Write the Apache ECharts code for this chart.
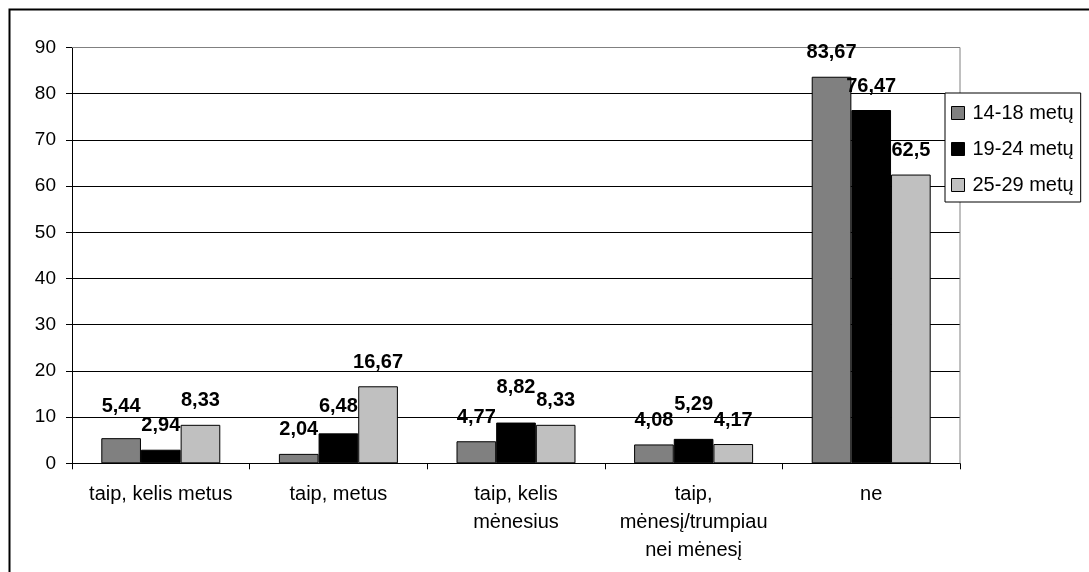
<!DOCTYPE html>
<html>
<head>
<meta charset="utf-8">
<script src="https://cdn.jsdelivr.net/npm/echarts@6/dist/echarts.min.js"></script>
<style>
  html, body { margin: 0; padding: 0; background: #fff; }
  #chart { width: 1089px; height: 572px; }
</style>
</head>
<body>
<div id="chart"></div>
<script>
  // duomenys
  var categories = ['taip, kelis metus', 'taip, metus', 'taip, kelis\nmėnesius', 'taip,\nmėnesį/trumpiau\nnei mėnesį', 'ne'];
  var seriesNames = ['14-18 metų', '19-24 metų', '25-29 metų'];
  var age1418 = [5.44, 2.04, 4.77, 4.08, 83.67];
  var age1924 = [2.94, 6.48, 8.82, 5.29, 76.47];
  var age2529 = [8.33, 16.67, 8.33, 4.17, 62.5];
  var yMin = 0, yMax = 90, yStep = 10;

  var colors = ['#808080', '#000000', '#c0c0c0'];
  var font = "'Liberation Sans', Arial, sans-serif";
  // labels that were moved up by hand in the original (series index -> {category index: extra px})
  var labelLift = [{ 0: 8 }, { 1: 3, 2: 11, 3: 10 }, {}];

  function makeSeries(idx, data) {
    return {
      name: seriesNames[idx],
      type: 'bar',
      data: data.map(function (v, i) {
        var extra = labelLift[idx][i] || 0;
        return extra ? { value: v, label: { distance: 14 + extra } } : v;
      }),
      barGap: '0%',
      barCategoryGap: '33%',
      animation: false,
      itemStyle: { color: colors[idx], borderColor: '#000', borderWidth: 1 },
      label: {
        show: true,
        position: 'top',
        distance: 14,
        color: '#000',
        fontFamily: font,
        fontSize: 20,
        fontWeight: 'bold',
        formatter: function (p) { return String(p.value).replace('.', ','); }
      }
    };
  }

  var chart = echarts.init(document.getElementById('chart'));
  var option = {
    backgroundColor: '#fff',
    color: colors,
    textStyle: { fontFamily: font },
    grid: { left: 72, top: 47.5, right: 129, bottom: 108.7, show: false },
    graphic: [{
      type: 'rect',
      shape: { x: 9.5, y: 9.5, width: 1100, height: 600 },
      style: { fill: 'none', stroke: '#000', lineWidth: 2 },
      silent: true,
      z: 100
    }, {
      // plot area border (right and top), grey
      type: 'polyline',
      shape: { points: [[72, 47.5], [960, 47.5], [960, 463.3]] },
      style: { fill: 'none', stroke: '#808080', lineWidth: 1 },
      silent: true,
      z: 1
    }],
    legend: {
      orient: 'vertical',
      left: 945,
      top: 93,
      data: seriesNames,
      icon: 'rect',
      itemWidth: 13,
      itemHeight: 13,
      itemGap: 16,
      padding: [10, 7, 7, 6],
      backgroundColor: '#fff',
      borderColor: '#000',
      borderWidth: 1,
      itemStyle: { borderColor: '#000', borderWidth: 1 },
      textStyle: { color: '#000', fontFamily: font, fontSize: 20, padding: [0, 2, 0, 3] },
      z: 10
    },
    xAxis: {
      type: 'category',
      data: categories,
      axisLine: { lineStyle: { color: '#000', width: 1 } },
      axisTick: { show: true, length: 6, lineStyle: { color: '#000' } },
      axisLabel: {
        color: '#000',
        fontFamily: font,
        fontSize: 20,
        lineHeight: 28,
        margin: 17,
        interval: 0
      }
    },
    yAxis: {
      type: 'value',
      min: yMin,
      max: yMax,
      interval: yStep,
      axisLine: { show: true, lineStyle: { color: '#000', width: 1 } },
      axisTick: { show: true, length: 6, lineStyle: { color: '#000' } },
      axisLabel: { color: '#000', fontFamily: font, fontSize: 19, margin: 16 },
      splitLine: {
        show: true,
        lineStyle: { color: ['#000', '#000', '#000', '#000', '#000', '#000', '#000', '#000', '#000', '#808080'], width: 1 }
      }
    },
    series: [
      makeSeries(0, age1418),
      makeSeries(1, age1924),
      makeSeries(2, age2529)
    ]
  };
  chart.setOption(option);
</script>
</body>
</html>
